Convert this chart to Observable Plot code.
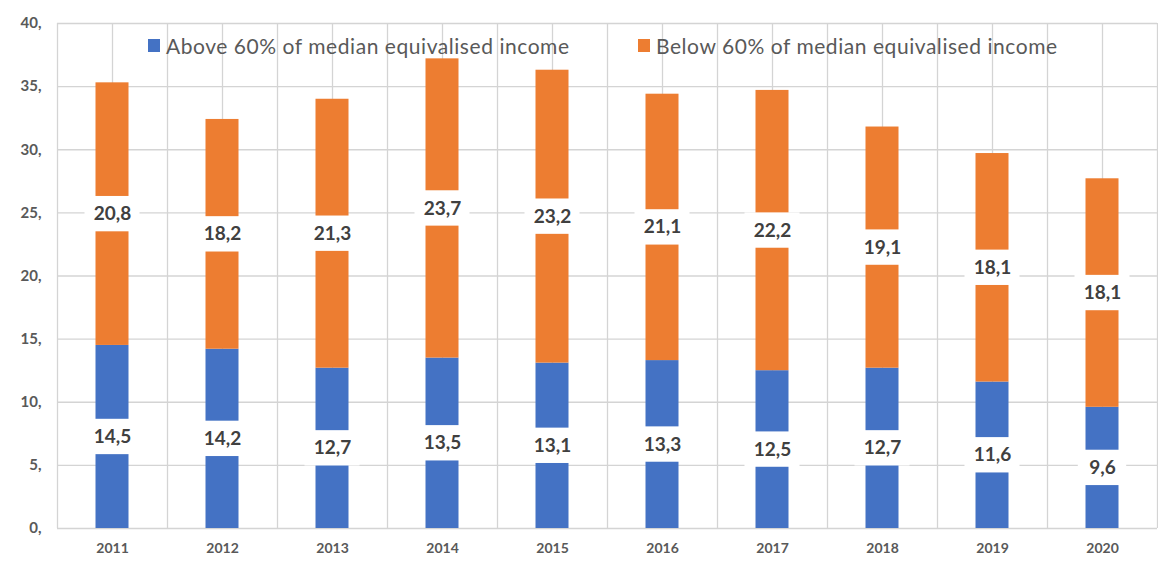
<!DOCTYPE html>
<html>
<head>
<meta charset="utf-8">
<script src="https://cdn.jsdelivr.net/npm/d3@7"></script>
<script src="https://cdn.jsdelivr.net/npm/@observablehq/plot@0.6"></script>
<style>
  html, body { margin: 0; padding: 0; background: #fff; }
  #wrap { position: relative; width: 1158px; height: 562px; }
  .leg { position: absolute; top: 33px; font-family: Lato, "Open Sans", sans-serif; font-size: 21px; letter-spacing: 0.55px; color: #595959; white-space: nowrap; display: flex; align-items: center; }
  .sw { display: inline-block; width: 12px; height: 13px; margin-right: 6px; }
</style>
</head>
<body>
<div id="wrap"></div>
<script>
const years = [2011, 2012, 2013, 2014, 2015, 2016, 2017, 2018, 2019, 2020];
const above = [14.5, 14.2, 12.7, 13.5, 13.1, 13.3, 12.5, 12.7, 11.6, 9.6];
const below = [20.8, 18.2, 21.3, 23.7, 23.2, 21.1, 22.2, 19.1, 18.1, 18.1];
const seriesNames = ["Above 60% of median equivalised income", "Below 60% of median equivalised income"];
const colors = ["#4472C4", "#ED7D31"];
const yTicks = [0, 5, 10, 15, 20, 25, 30, 35, 40];

const rows = [];
years.forEach((yr, i) => {
  rows.push({year: yr, series: seriesNames[0], value: above[i], y1: 0, y2: above[i]});
  rows.push({year: yr, series: seriesNames[1], value: below[i], y1: above[i], y2: above[i] + below[i]});
});
rows.forEach(r => r.mid = (r.y1 + r.y2) / 2);

const half = 0.15;   // half bar width in year units
const boxH = 1.4;    // half label box height in value units
const fmt = v => v.toFixed(1).replace(".", ",");
const vLines = d3.range(years[0] - 0.5, years[years.length - 1] + 0.51, 0.5);

const chart = Plot.plot({
  width: 1158,
  height: 562,
  marginLeft: 57,
  marginRight: 1,
  marginTop: 23,
  marginBottom: 34,
  style: {background: "#fff", fontFamily: "Lato, 'Open Sans', sans-serif"},
  x: {domain: [years[0] - 0.5, years[years.length - 1] + 0.5], axis: null},
  y: {domain: [0, 40], axis: null},
  color: {domain: seriesNames, range: colors},
  marks: [
    Plot.ruleY(yTicks, {stroke: "#d4d4d4", strokeWidth: 1.3}),
    Plot.ruleX(vLines, {stroke: "#d4d4d4", strokeWidth: 1.3}),
    Plot.rectY(rows, {x1: d => d.year - half, x2: d => d.year + half, y1: "y1", y2: "y2", fill: "series"}),
    Plot.rectY(rows.filter(d => d.value >= 10), {x1: d => d.year - 0.25, x2: d => d.year + 0.25, y1: d => d.mid - boxH, y2: d => d.mid + boxH, fill: "white"}),
    Plot.rectY(rows.filter(d => d.value < 10), {x1: d => d.year - 0.22, x2: d => d.year + 0.22, y1: d => d.mid - boxH, y2: d => d.mid + boxH, fill: "white"}),
    Plot.text(rows, {x: "year", y: "mid", text: d => fmt(d.value), fill: "#404040", fontWeight: "bold", fontSize: 19}),
    Plot.axisY(yTicks, {tickSize: 0, tickPadding: 16, tickFormat: d => d + ",", fontSize: 15, fontWeight: "bold", fill: "#595959", label: null}),
    Plot.axisX(years, {tickSize: 0, tickPadding: 15, tickFormat: d => String(d), fontSize: 14, fontWeight: "bold", fill: "#595959", label: null})
  ]
});

const wrap = document.getElementById("wrap");
wrap.appendChild(chart);
const legPos = [148, 638];
seriesNames.forEach((name, i) => {
  const div = document.createElement("div");
  div.className = "leg";
  div.style.left = legPos[i] + "px";
  const sw = document.createElement("span");
  sw.className = "sw";
  sw.style.background = colors[i];
  div.appendChild(sw);
  div.appendChild(document.createTextNode(name));
  wrap.appendChild(div);
});
</script>
</body>
</html>
